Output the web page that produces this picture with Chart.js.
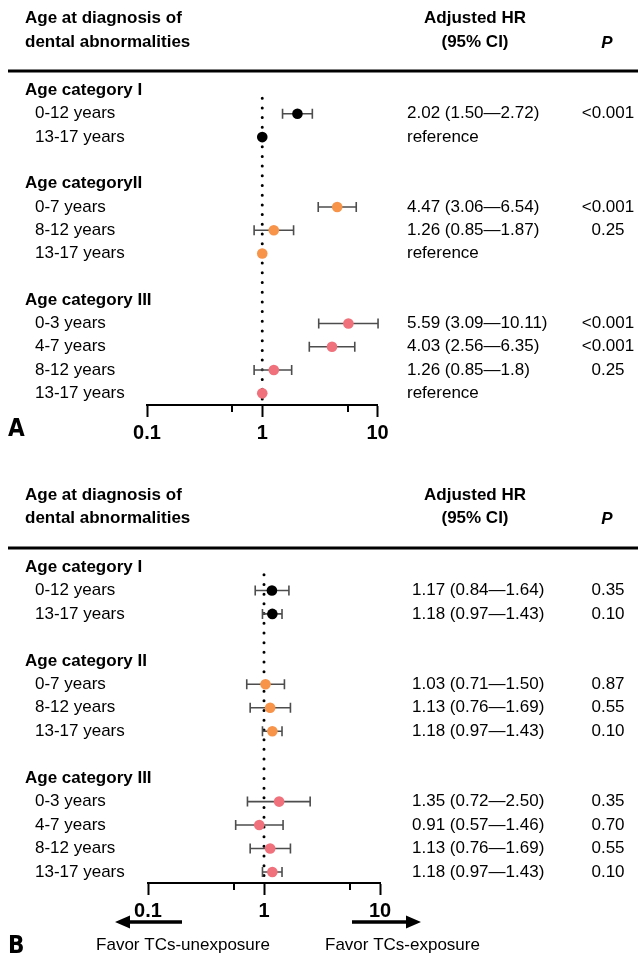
<!DOCTYPE html>
<html>
<head>
<meta charset="utf-8">
<script src="https://cdn.jsdelivr.net/npm/chart.js@4.4.1/dist/chart.umd.min.js"></script>
<style>
  body { margin: 0; background: #fff; }
  #wrap { position: relative; width: 638px; height: 956px; }
  .panel { position: absolute; left: 0; width: 638px; }
</style>
</head>
<body>
<div id="wrap">
  <div class="panel" style="top:0;height:460px"><canvas id="chartA"></canvas></div>
  <div class="panel" style="top:460px;height:496px"><canvas id="chartB"></canvas></div>
</div>
<script>
// === Rows, top to bottom ("" = spacer row) ===
const rowLabelsA = ["Age category I", "0-12 years", "13-17 years", "",
  "Age categoryII", "0-7 years", "8-12 years", "13-17 years", "",
  "Age category III", "0-3 years", "4-7 years", "8-12 years", "13-17 years"];
const rowLabelsB = ["Age category I", "0-12 years", "13-17 years", "",
  "Age category II", "0-7 years", "8-12 years", "13-17 years", "",
  "Age category III", "0-3 years", "4-7 years", "8-12 years", "13-17 years"];
// 0 = category I, 1 = category II, 2 = category III
const rowGroup = [0, 0, 0, null, 1, 1, 1, 1, null, 2, 2, 2, 2, 2];

// === Panel A: adjusted HR ===
const hrA = [null, 2.02, 1, null, null, 4.47, 1.26, 1, null, null, 5.59, 4.03, 1.26, 1];
const loA = [null, 1.50, null, null, null, 3.06, 0.85, null, null, null, 3.09, 2.56, 0.85, null];
const hiA = [null, 2.72, null, null, null, 6.54, 1.87, null, null, null, 10.11, 6.35, 1.8, null];
const ciTextA = ["", "2.02 (1.50\u20142.72)", "reference", "", "", "4.47 (3.06\u20146.54)", "1.26 (0.85\u20141.87)",
  "reference", "", "", "5.59 (3.09\u201410.11)", "4.03 (2.56\u20146.35)", "1.26 (0.85\u20141.8)", "reference"];
const pA = ["", "<0.001", "", "", "", "<0.001", "0.25", "", "", "", "<0.001", "<0.001", "0.25", ""];

// === Panel B: adjusted HR ===
const hrB = [null, 1.17, 1.18, null, null, 1.03, 1.13, 1.18, null, null, 1.35, 0.91, 1.13, 1.18];
const loB = [null, 0.84, 0.97, null, null, 0.71, 0.76, 0.97, null, null, 0.72, 0.57, 0.76, 0.97];
const hiB = [null, 1.64, 1.43, null, null, 1.50, 1.69, 1.43, null, null, 2.50, 1.46, 1.69, 1.43];
const ciTextB = ["", "1.17 (0.84\u20141.64)", "1.18 (0.97\u20141.43)", "", "", "1.03 (0.71\u20141.50)", "1.13 (0.76\u20141.69)",
  "1.18 (0.97\u20141.43)", "", "", "1.35 (0.72\u20142.50)", "0.91 (0.57\u20141.46)", "1.13 (0.76\u20141.69)", "1.18 (0.97\u20141.43)"];
const pB = ["", "0.35", "0.10", "", "", "0.87", "0.55", "0.10", "", "", "0.35", "0.70", "0.55", "0.10"];

// === Axis ===
const xTicks = [0.1, 1, 10];
const xMinorTicks = [0.55, 5.5];
const refValue = 1;

const FONT = '"Liberation Sans", Arial, Helvetica, sans-serif';
const NARROW = '"Liberation Sans Narrow", "DejaVu Sans Condensed", "Liberation Sans", sans-serif';
const groupColors = ["#000000", "#f7944a", "#f0717b"];

Chart.defaults.font.family = FONT;

function forestPlugin(p) {
  return {
    id: "forest" + p.letter,
    beforeDatasetDraw(chart, args) {
      if (args.index !== 1) return;
      const { ctx, scales: { x, y } } = chart;
      ctx.save();
      ctx.strokeStyle = "#4d4d4d";
      ctx.lineWidth = 1.6;
      p.hr.forEach((v, i) => {
        if (p.lo[i] == null) return;
        const yy = y.getPixelForValue(i);
        const x0 = x.getPixelForValue(p.lo[i]);
        const x1 = x.getPixelForValue(p.hi[i]);
        ctx.beginPath();
        ctx.moveTo(x0, yy); ctx.lineTo(x1, yy);
        ctx.moveTo(x0, yy - 5); ctx.lineTo(x0, yy + 5);
        ctx.moveTo(x1, yy - 5); ctx.lineTo(x1, yy + 5);
        ctx.stroke();
      });
      ctx.restore();
    },
    afterDraw(chart) {
      const { ctx, scales: { x, y }, chartArea } = chart;
      ctx.save();
      ctx.fillStyle = "#000";
      ctx.textBaseline = "middle";

      // headers
      ctx.font = "bold 17px " + FONT;
      ctx.textAlign = "left";
      ctx.fillText("Age at diagnosis of", 25, p.head1);
      ctx.fillText("dental abnormalities", 25, p.head2);
      ctx.textAlign = "center";
      ctx.fillText("Adjusted HR", 475, p.head1);
      ctx.fillText("(95% CI)", 475, p.head2);
      ctx.font = "italic bold 17px " + FONT;
      ctx.fillText("P", 607, p.head2 + 1);
      ctx.fillRect(8, p.rule - 1.5, 630, 3);

      // rows
      p.labels.forEach((lab, i) => {
        const yy = y.getPixelForValue(i);
        const isHead = lab.startsWith("Age category");
        ctx.textAlign = "left";
        ctx.font = (isHead ? "bold " : "") + "17px " + FONT;
        ctx.fillText(lab, isHead ? 25 : 35, yy);
        ctx.font = "17px " + FONT;
        ctx.fillText(p.ci[i], p.ciX, yy);
        ctx.textAlign = "center";
        ctx.fillText(p.p[i], 608, yy);
      });

      // minor ticks
      ctx.strokeStyle = "#000";
      ctx.lineWidth = 2;
      xMinorTicks.forEach(v => {
        const xx = Math.round(x.getPixelForValue(v));
        ctx.beginPath();
        ctx.moveTo(xx, chartArea.bottom);
        ctx.lineTo(xx, chartArea.bottom + 7);
        ctx.stroke();
      });

      // panel letter
      ctx.textAlign = "left";
      ctx.font = "bold 24px " + NARROW;
      ctx.fillText(p.letter, 8, p.letterY);

      if (p.arrows) {
        const ay = p.arrowY;
        ctx.lineWidth = 3.5;
        ctx.beginPath();
        ctx.moveTo(182, ay); ctx.lineTo(126, ay);
        ctx.moveTo(352, ay); ctx.lineTo(410, ay);
        ctx.stroke();
        ctx.beginPath();
        ctx.moveTo(115, ay); ctx.lineTo(130, ay - 6.5); ctx.lineTo(130, ay + 6.5); ctx.closePath();
        ctx.moveTo(421, ay); ctx.lineTo(406, ay - 6.5); ctx.lineTo(406, ay + 6.5); ctx.closePath();
        ctx.fill();
        ctx.font = "17px " + FONT;
        ctx.textAlign = "center";
        ctx.fillText("Favor TCs-unexposure", 183, p.favorY);
        ctx.textAlign = "left";
        ctx.fillText("Favor TCs-exposure", 325, p.favorY);
      }
      ctx.restore();
    }
  };
}

function makePanel(id, p) {
  const points = [];
  const colors = [];
  p.hr.forEach((v, i) => {
    if (v == null) return;
    points.push({ x: v, y: i });
    colors.push(groupColors[rowGroup[i]]);
  });

  new Chart(document.getElementById(id), {
    type: "scatter",
    data: {
      datasets: [
        {
          type: "line",
          order: 2,
          data: [{ x: refValue, y: 0.33 }, { x: refValue, y: p.yMax }],
          borderColor: "#000",
          borderWidth: 3,
          borderDash: [0, 9.7],
          borderCapStyle: "round",
          pointRadius: 0,
          fill: false
        },
        {
          order: 1,
          data: points,
          pointRadius: 5.3,
          pointHoverRadius: 5.3,
          pointBackgroundColor: colors,
          pointBorderWidth: 0,
          clip: false
        }
      ]
    },
    options: {
      responsive: true,
      maintainAspectRatio: false,
      animation: false,
      events: [],
      layout: { padding: p.padding },
      plugins: { legend: { display: false }, tooltip: { enabled: false } },
      scales: {
        x: {
          type: "logarithmic",
          min: 0.1,
          max: 10,
          afterBuildTicks: s => { s.ticks = xTicks.map(v => ({ value: v })); },
          afterFit: s => { s.height = 40; },
          ticks: {
            color: "#000",
            font: { size: 20, weight: "bold" },
            padding: 4,
            maxRotation: 0,
            autoSkip: false,
            callback: v => String(v)
          },
          grid: { drawOnChartArea: false, drawTicks: true, tickLength: 12, tickColor: "#000", tickWidth: 2 },
          border: { color: "#000", width: 2 }
        },
        y: { type: "linear", reverse: true, min: 0, max: p.yMax, display: false }
      }
    },
    plugins: [forestPlugin(p)]
  });
}

makePanel("chartA", {
  letter: "A", labels: rowLabelsA, hr: hrA, lo: loA, hi: hiA, ci: ciTextA, p: pA,
  yMax: 13.5, padding: { left: 147, right: 260.5, top: 90.5, bottom: 15 },
  head1: 18, head2: 42, rule: 71, ciX: 407, letterY: 430, arrows: false
});

makePanel("chartB", {
  letter: "B", labels: rowLabelsB, hr: hrB, lo: loB, hi: hiB, ci: ciTextB, p: pB,
  yMax: 13.47, padding: { left: 148, right: 258, top: 107, bottom: 33 },
  head1: 35, head2: 58, rule: 88, ciX: 412, letterY: 487, arrows: true, arrowY: 462, favorY: 485
});
</script>
</body>
</html>
